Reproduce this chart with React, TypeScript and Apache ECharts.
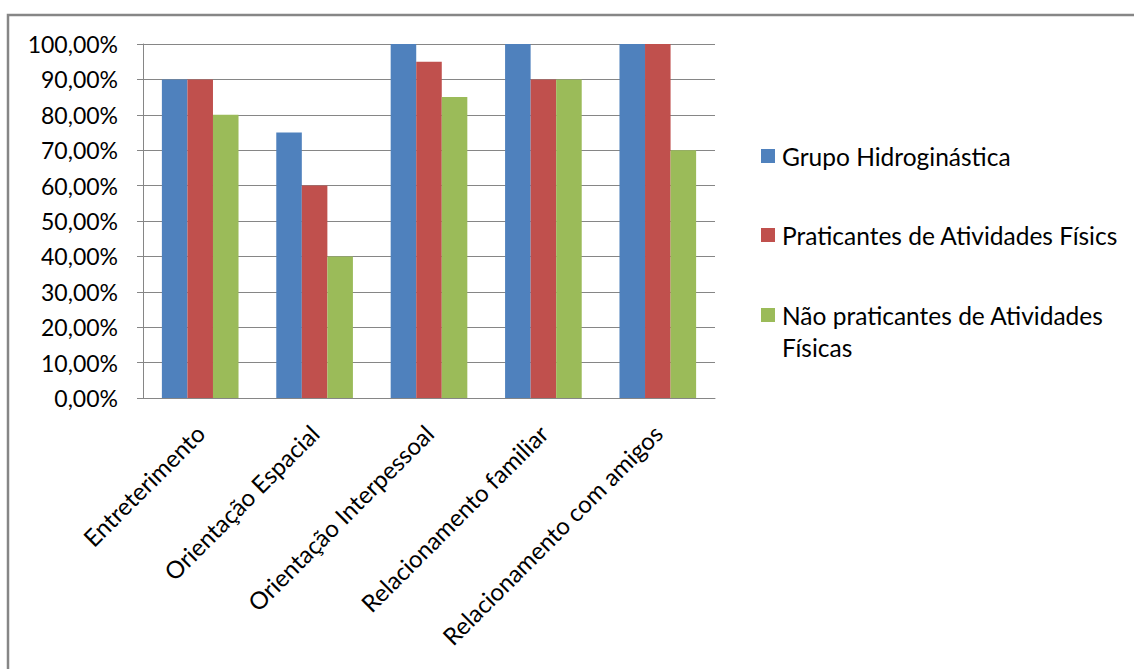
import React, { useEffect, useRef } from "react";
import * as echarts from "echarts";

const categories = [
  "Entreterimento",
  "Orientação Espacial",
  "Orientação Interpessoal",
  "Relacionamento familiar",
  "Relacionamento com amigos",
];

const seriesNames = [
  "Grupo Hidroginástica",
  "Praticantes de Atividades Físics",
  "Não praticantes de Atividades\nFísicas",
];

const hidroginastica = [90, 75, 100, 100, 100];
const praticantes = [90, 60, 95, 90, 100];
const naoPraticantes = [80, 40, 85, 90, 70];

const colors = ["#4F81BD", "#C0504D", "#9BBB59"];

const FONT = "Lato, 'Noto Sans', sans-serif";
const AXIS_GRAY = "#868686";

export default function App() {
  const ref = useRef<HTMLDivElement>(null);

  useEffect(() => {
    if (!ref.current) return;
    const chart = echarts.init(ref.current, undefined, { renderer: "svg" });
    const values = [hidroginastica, praticantes, naoPraticantes];

    // legend drawn by hand: square marker beside the first text line
    const legendRows = [156, 235, 315];
    const legendGraphics: any[] = [];
    seriesNames.forEach((name, i) => {
      legendGraphics.push({
        type: "rect",
        shape: { x: 761, y: legendRows[i] - 7, width: 14, height: 14 },
        style: { fill: colors[i] },
      });
      legendGraphics.push({
        type: "text",
        x: 782,
        y: legendRows[i] - 16,
        style: {
          text: name,
          fontFamily: FONT,
          fontSize: 24.5,
          lineHeight: 32,
          fill: "#000",
          verticalAlign: "top",
        },
      });
    });

    chart.setOption({
      animation: false,
      backgroundColor: "#fff",
      grid: { left: 143, right: 419, top: 44, bottom: 271 },
      xAxis: {
        type: "category",
        data: categories,
        axisLine: { lineStyle: { color: AXIS_GRAY, width: 1 } },
        axisTick: { length: 8, lineStyle: { color: AXIS_GRAY } },
        axisLabel: {
          rotate: 45,
          margin: 31,
          fontFamily: FONT,
          fontSize: 24,
          color: "#000",
          interval: 0,
        },
      },
      yAxis: {
        type: "value",
        min: 0,
        max: 100,
        interval: 10,
        axisLine: { show: true, lineStyle: { color: AXIS_GRAY, width: 1 } },
        axisTick: { show: true, length: 6, lineStyle: { color: AXIS_GRAY } },
        splitLine: { lineStyle: { color: AXIS_GRAY, width: 1 } },
        axisLabel: {
          margin: 25,
          fontFamily: FONT,
          fontSize: 23,
          color: "#000",
          formatter: (v: number) => v.toFixed(2).replace(".", ",") + "%",
        },
      },
      series: values.map((data, i) => ({
        type: "bar",
        name: seriesNames[i],
        data,
        itemStyle: { color: colors[i] },
        barGap: "0%",
        barCategoryGap: "33%",
      })),
      graphic: [
        {
          type: "rect",
          shape: { x: 8, y: 15, width: 1140, height: 700 },
          style: { fill: "none", stroke: AXIS_GRAY, lineWidth: 2.5 },
          z: 100,
        },
        ...legendGraphics,
      ],
    });

    return () => chart.dispose();
  }, []);

  return (
    <div
      ref={ref}
      style={{ position: "fixed", left: 0, top: 0, width: 1134, height: 669 }}
    />
  );
}
